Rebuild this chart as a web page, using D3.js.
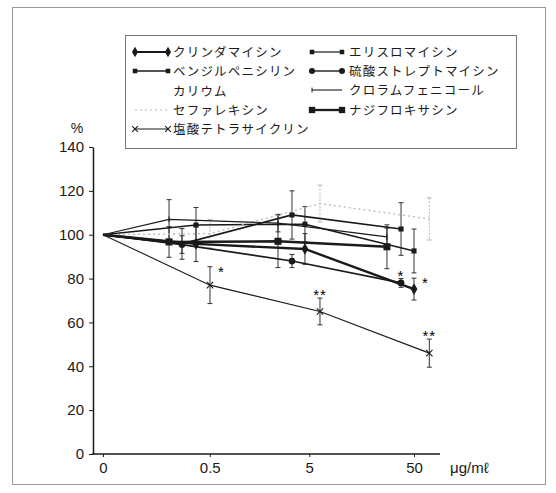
<!DOCTYPE html>
<html><head><meta charset="utf-8">
<script src="https://cdn.jsdelivr.net/npm/d3@7"></script>
<style>body{margin:0;background:#fff}</style>
</head><body><svg id="c" width="556" height="493"></svg>
<script>
// ---- data ----
const doseLabels = ["0", "0.5", "5", "50"];
const doseTickPos = [0, 1.03, 1.99, 3.0];
const yTicks = [0, 20, 40, 60, 80, 100, 120, 140];
// x positions (dose axis units) of the staggered groups
const slotA = [0, 0.637, 1.688, 2.739];
const slotB = [0, 0.762, 1.823, 2.875];
const slotC = [0, 0.897, 1.948, 3.0];
const slotD = [0, 1.032, 2.093, 3.148];

const clindamycin = [100, 95.8, 93.5, 75.2];
const clindamycinSD = [0, 8, 7, 5];
const erythromycin = [100, 104.4, 104.8, 92.6];
const erythromycinSD = [0, 8, 8, 10];
const benzylpenicillin = [100, 95.8, 109, 102.6];
const benzylpenicillinSD = [0, 7, 11, 12];
const streptomycin = [100, 95.5, 88, 78];
const streptomycinSD = [0, 4, 3, 2];
const cefalexin = [100, 100.5, 114.2, 107.2];
const cefalexinSD = [0, 6.5, 8.4, 9.6];
const chloramphenicol = [100, 107, 105.3, 99];
const chloramphenicolSD = [0, 9, 4, 4];
const nadifloxacin = [100, 96.7, 97, 94.5];
const nadifloxacinSD = [0, 7, 12, 10];
const tetracycline = [100, 77, 65, 46];
const tetracyclineSD = [0, 8.4, 6.1, 6.4];

const seriesNames = ["クリンダマイシン", "エリスロマイシン", "ベンジルペニシリン\nカリウム", "硫酸ストレプトマイシン",
  "セファレキシン", "クロラムフェニコール", "ナジフロキサシン", "塩酸テトラサイクリン"];
// significance marks: series index, point index, text, side
const sigMarks = [
  [7, 1, "*", "right"], [7, 2, "**", "top"], [7, 3, "**", "top"],
  [3, 3, "*", "top"], [0, 3, "*", "right"]
];

// ---- build ----
const series = [
  {name: seriesNames[0], v: clindamycin, sd: clindamycinSD, xs: slotC, sym: "diamond", w: 2.4},
  {name: seriesNames[1], v: erythromycin, sd: erythromycinSD, xs: slotC, sym: "square", w: 1.5},
  {name: seriesNames[2], v: benzylpenicillin, sd: benzylpenicillinSD, xs: slotB, sym: "square", w: 1.7},
  {name: seriesNames[3], v: streptomycin, sd: streptomycinSD, xs: slotB, sym: "circle", w: 1.7},
  {name: seriesNames[4], v: cefalexin, sd: cefalexinSD, xs: slotD, sym: "none", w: 1.3, dotted: true},
  {name: seriesNames[5], v: chloramphenicol, sd: chloramphenicolSD, xs: slotA, sym: "tick", w: 1.2},
  {name: seriesNames[6], v: nadifloxacin, sd: nadifloxacinSD, xs: slotA, sym: "bigsquare", w: 2.6},
  {name: seriesNames[7], v: tetracycline, sd: tetracyclineSD, xs: slotD, sym: "times", w: 1.1}
];

const svg = d3.select("#c");
const ink = "#1a1a1a";
const light = "#b8b8b8";
const axisFont = "'Liberation Sans', Arial, sans-serif";
const jpFont = "'Noto Sans CJK JP', sans-serif";

// outer frame
svg.append("rect").attr("x", 12.5).attr("y", 7.5).attr("width", 533).attr("height", 477)
  .attr("fill", "none").attr("stroke", "#999").attr("stroke-width", 1);

const x = d3.scaleLinear().domain([0, 3]).range([103, 414]);
const y = d3.scaleLinear().domain([0, 140]).range([454, 147]);

// y axis
const ya = svg.append("g").attr("transform", "translate(93,0)")
  .call(d3.axisLeft(y).tickValues(yTicks).tickSize(4).tickSizeOuter(0).tickPadding(5));
ya.select(".domain").attr("stroke", ink).attr("stroke-width", 1.5);
ya.selectAll(".tick line").attr("stroke", ink);
ya.selectAll("text").attr("font-family", axisFont).attr("font-size", 15).attr("fill", ink);

svg.append("text").attr("x", 77).attr("y", 133).attr("text-anchor", "middle")
  .attr("font-family", axisFont).attr("font-size", 14).attr("fill", ink).text("%");

// x axis
svg.append("line").attr("x1", 92).attr("x2", 440).attr("y1", 454).attr("y2", 454)
  .attr("stroke", ink).attr("stroke-width", 1.5);
const xa = svg.append("g").attr("transform", "translate(0,454)")
  .call(d3.axisBottom(x).tickValues(doseTickPos).tickFormat((d, i) => doseLabels[i]).tickSize(3).tickPadding(5));
xa.select(".domain").remove();
xa.selectAll(".tick line").attr("stroke", ink);
xa.selectAll("text").attr("font-family", axisFont).attr("font-size", 15).attr("fill", ink);

svg.append("text").attr("x", 450).attr("y", 473).attr("font-family", axisFont).attr("font-size", 15)
  .attr("fill", ink).text("μg/mℓ");

// marker drawing
function drawMarker(g, sym, cx, cy, scale) {
  const s = scale || 1;
  if (sym === "none") return;
  if (sym === "tick") {
    g.append("line").attr("x1", cx).attr("x2", cx).attr("y1", cy - 3 * s).attr("y2", cy + 3 * s)
      .attr("stroke", ink).attr("stroke-width", 1);
    return;
  }
  if (sym === "times") {
    g.append("path").attr("d", d3.symbol(d3.symbolTimes, 28 * s)()).attr("transform", `translate(${cx},${cy})`)
      .attr("fill", "none").attr("stroke", ink).attr("stroke-width", 1.1);
    return;
  }
  const map = {diamond: [d3.symbolDiamond, 40], square: [d3.symbolSquare, 26], circle: [d3.symbolCircle, 36], bigsquare: [d3.symbolSquare, 50]};
  const m = map[sym];
  g.append("path").attr("d", d3.symbol(m[0], m[1] * s)()).attr("transform", `translate(${cx},${cy})`).attr("fill", ink);
}

// error bars
const plot = svg.append("g");
series.forEach(s => {
  const col = s.dotted ? light : "#333";
  s.v.forEach((v, i) => {
    if (!s.sd[i]) return;
    const cx = x(s.xs[i]);
    const y1 = y(v + s.sd[i]), y2 = y(v - s.sd[i]);
    plot.append("line").attr("x1", cx).attr("x2", cx).attr("y1", y1).attr("y2", y2)
      .attr("stroke", col).attr("stroke-width", 1).attr("stroke-dasharray", s.dotted ? "2,1.5" : null);
    [y1, y2].forEach(yy => plot.append("line").attr("x1", cx - 2.5).attr("x2", cx + 2.5).attr("y1", yy).attr("y2", yy)
      .attr("stroke", col).attr("stroke-width", 1));
  });
});

// lines
const line = d3.line();
series.forEach(s => {
  const pts = s.v.map((v, i) => [x(s.xs[i]), y(v)]);
  plot.append("path").attr("d", line(pts)).attr("fill", "none")
    .attr("stroke", s.dotted ? light : ink).attr("stroke-width", s.w)
    .attr("stroke-dasharray", s.dotted ? "2,3" : null);
});
// markers
series.forEach(s => {
  s.v.forEach((v, i) => { if (i > 0) drawMarker(plot, s.sym, x(s.xs[i]), y(v)); });
});

// significance marks
sigMarks.forEach(([si, pi, t, side]) => {
  const s = series[si];
  const cx = x(s.xs[pi]);
  const top = y(s.v[pi] + s.sd[pi]);
  let tx, ty, anchor;
  if (side === "top") { tx = cx; ty = top - 6; anchor = "middle"; }
  else { tx = cx + 8; ty = top + 2; anchor = "start"; }
  svg.append("text").attr("x", tx).attr("y", ty + 8).attr("text-anchor", anchor)
    .attr("font-family", axisFont).attr("font-size", 15).attr("fill", "#000")
    .attr("letter-spacing", 1).text(t);
});

// legend
svg.append("rect").attr("x", 125.5).attr("y", 35.5).attr("width", 391).attr("height", 113)
  .attr("fill", "#fff").attr("stroke", "#777").attr("stroke-width", 1);
const legendRows = [[0, 0, 52], [2, 0, 71], [4, 0, 110], [7, 0, 129], [1, 1, 52], [3, 1, 71], [5, 1, 90], [6, 1, 110]];
const colX = [[135, 168, 173], [312, 342, 349]];
legendRows.forEach(([si, c, ly]) => {
  const s = series[si];
  const [x1, x2, tx] = colX[c];
  const lg = svg.append("g");
  lg.append("line").attr("x1", x1).attr("x2", x2).attr("y1", ly).attr("y2", ly)
    .attr("stroke", s.dotted ? "#d0d0d0" : ink).attr("stroke-width", s.dotted ? 1.3 : Math.max(1.1, s.w - 0.3))
    .attr("stroke-dasharray", s.dotted ? "2,3" : null);
  drawMarker(lg, s.sym, x1, ly, 0.8);
  if (s.sym !== "tick") drawMarker(lg, s.sym, x2, ly, 0.8);
  const lines = s.name.split("\n");
  lines.forEach((t, k) => {
    lg.append("text").attr("x", tx).attr("y", ly + 4.5 + k * 20).attr("font-family", jpFont)
      .attr("font-size", 12.5).attr("letter-spacing", 1.2).attr("fill", ink).text(t);
  });
});
</script></body></html>
